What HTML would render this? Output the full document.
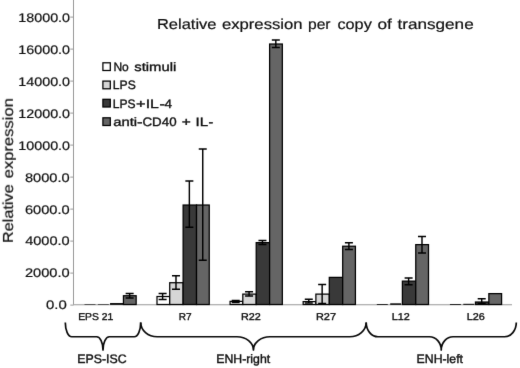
<!DOCTYPE html><html><head><meta charset="utf-8"><title>chart</title>
<style>html,body{margin:0;padding:0;background:#fff}svg{display:block;filter:grayscale(1)}text{font-family:"Liberation Sans",sans-serif;fill:#111;stroke:#111;text-rendering:geometricPrecision}</style></head><body>
<svg width="520" height="368" viewBox="0 0 520 368">
<defs><filter id="soft" filterUnits="userSpaceOnUse" x="0" y="0" width="520" height="368" color-interpolation-filters="sRGB"><feConvolveMatrix order="3" kernelMatrix="0.0052 0.0619 0.0052 0.0619 0.7314 0.0619 0.0052 0.0619 0.0052" edgeMode="duplicate" preserveAlpha="false"/></filter></defs>
<g filter="url(#soft)">
<rect width="520" height="368" fill="#fff"/>
<line x1="73.5" y1="0" x2="73.5" y2="304.5" stroke="#999" stroke-width="1"/>
<line x1="73.0" y1="304.75" x2="512" y2="304.75" stroke="#999" stroke-width="1.1"/>
<line x1="70.3" y1="305.1" x2="73.5" y2="305.1" stroke="#999" stroke-width="1"/>
<line x1="70.3" y1="273.1" x2="73.5" y2="273.1" stroke="#999" stroke-width="1"/>
<line x1="70.3" y1="241.1" x2="73.5" y2="241.1" stroke="#999" stroke-width="1"/>
<line x1="70.3" y1="209.1" x2="73.5" y2="209.1" stroke="#999" stroke-width="1"/>
<line x1="70.3" y1="177.1" x2="73.5" y2="177.1" stroke="#999" stroke-width="1"/>
<line x1="70.3" y1="145.1" x2="73.5" y2="145.1" stroke="#999" stroke-width="1"/>
<line x1="70.3" y1="113.1" x2="73.5" y2="113.1" stroke="#999" stroke-width="1"/>
<line x1="70.3" y1="81.1" x2="73.5" y2="81.1" stroke="#999" stroke-width="1"/>
<line x1="70.3" y1="49.1" x2="73.5" y2="49.1" stroke="#999" stroke-width="1"/>
<line x1="70.3" y1="17.1" x2="73.5" y2="17.1" stroke="#999" stroke-width="1"/>
<rect x="84.49" y="304.30" width="10.97" height="0.60" fill="#111"/>
<rect x="97.87" y="304.30" width="10.97" height="0.60" fill="#111"/>
<rect x="110.04" y="303.00" width="13.38" height="1.90" fill="#111"/>
<rect x="123.44" y="295.73" width="12.72" height="8.77" fill="#656565" stroke="#000" stroke-width="1.25"/>
<path d="M125.65 293.60H133.65M125.65 298.00H133.65" stroke="#000" stroke-width="1.5" fill="none"/>
<path d="M129.65 293.60V298.00" stroke="#000" stroke-width="1.45" fill="none"/>
<rect x="157.00" y="296.52" width="12.72" height="7.98" fill="#ffffff" stroke="#000" stroke-width="1.25"/>
<rect x="169.72" y="282.73" width="13.40" height="21.77" fill="#d6d6d6" stroke="#000" stroke-width="1.25"/>
<rect x="183.12" y="205.03" width="13.40" height="99.47" fill="#393939" stroke="#000" stroke-width="1.25"/>
<rect x="196.53" y="205.03" width="12.72" height="99.47" fill="#656565" stroke="#000" stroke-width="1.25"/>
<path d="M158.61 293.60H166.61M158.61 299.40H166.61" stroke="#000" stroke-width="1.5" fill="none"/>
<path d="M162.61 293.60V299.40" stroke="#000" stroke-width="1.45" fill="none"/>
<path d="M171.99 275.70H179.99M171.99 289.20H179.99" stroke="#000" stroke-width="1.5" fill="none"/>
<path d="M175.99 275.70V289.20" stroke="#000" stroke-width="1.45" fill="none"/>
<path d="M185.36 181.00H193.36M185.36 227.30H193.36" stroke="#000" stroke-width="1.5" fill="none"/>
<path d="M189.36 181.00V227.30" stroke="#000" stroke-width="1.45" fill="none"/>
<path d="M198.74 149.00H206.74M198.74 260.20H206.74" stroke="#000" stroke-width="1.5" fill="none"/>
<path d="M202.74 149.00V260.20" stroke="#000" stroke-width="1.45" fill="none"/>
<rect x="230.08" y="301.38" width="12.72" height="3.12" fill="#ffffff" stroke="#000" stroke-width="1.25"/>
<rect x="242.81" y="294.12" width="13.40" height="10.38" fill="#d6d6d6" stroke="#000" stroke-width="1.25"/>
<rect x="256.21" y="242.62" width="13.40" height="61.88" fill="#393939" stroke="#000" stroke-width="1.25"/>
<rect x="269.61" y="44.02" width="12.73" height="260.48" fill="#656565" stroke="#000" stroke-width="1.25"/>
<path d="M231.70 300.40H239.70M231.70 302.40H239.70" stroke="#000" stroke-width="1.5" fill="none"/>
<path d="M235.70 300.40V302.40" stroke="#000" stroke-width="1.45" fill="none"/>
<path d="M245.07 291.80H253.07M245.07 296.10H253.07" stroke="#000" stroke-width="1.5" fill="none"/>
<path d="M249.07 291.80V296.10" stroke="#000" stroke-width="1.45" fill="none"/>
<path d="M258.45 240.50H266.45M258.45 244.50H266.45" stroke="#000" stroke-width="1.5" fill="none"/>
<path d="M262.45 240.50V244.50" stroke="#000" stroke-width="1.45" fill="none"/>
<path d="M271.82 40.10H279.82M271.82 47.60H279.82" stroke="#000" stroke-width="1.5" fill="none"/>
<path d="M275.82 40.10V47.60" stroke="#000" stroke-width="1.45" fill="none"/>
<rect x="303.17" y="301.62" width="12.73" height="2.88" fill="#ffffff" stroke="#000" stroke-width="1.25"/>
<rect x="315.89" y="294.12" width="13.40" height="10.38" fill="#d6d6d6" stroke="#000" stroke-width="1.25"/>
<rect x="329.29" y="277.38" width="13.40" height="27.12" fill="#393939" stroke="#000" stroke-width="1.25"/>
<rect x="342.69" y="246.22" width="12.73" height="58.28" fill="#656565" stroke="#000" stroke-width="1.25"/>
<path d="M304.78 299.30H312.78M304.78 302.90H312.78" stroke="#000" stroke-width="1.5" fill="none"/>
<path d="M308.78 299.30V302.90" stroke="#000" stroke-width="1.45" fill="none"/>
<path d="M318.15 284.60H326.15M318.15 303.40H326.15" stroke="#000" stroke-width="1.5" fill="none"/>
<path d="M322.15 284.60V303.40" stroke="#000" stroke-width="1.45" fill="none"/>
<path d="M344.90 242.75H352.90M344.90 249.40H352.90" stroke="#000" stroke-width="1.5" fill="none"/>
<path d="M348.90 242.75V249.40" stroke="#000" stroke-width="1.45" fill="none"/>
<rect x="376.82" y="304.00" width="10.97" height="0.90" fill="#111"/>
<rect x="390.20" y="303.30" width="10.97" height="1.60" fill="#111"/>
<rect x="402.38" y="281.12" width="13.40" height="23.38" fill="#393939" stroke="#000" stroke-width="1.25"/>
<rect x="415.77" y="244.62" width="12.73" height="59.88" fill="#656565" stroke="#000" stroke-width="1.25"/>
<path d="M404.61 277.90H412.61M404.61 284.70H412.61" stroke="#000" stroke-width="1.5" fill="none"/>
<path d="M408.61 277.90V284.70" stroke="#000" stroke-width="1.45" fill="none"/>
<path d="M417.99 236.50H425.99M417.99 253.10H425.99" stroke="#000" stroke-width="1.5" fill="none"/>
<path d="M421.99 236.50V253.10" stroke="#000" stroke-width="1.45" fill="none"/>
<rect x="449.91" y="304.00" width="10.97" height="0.90" fill="#111"/>
<rect x="463.28" y="303.80" width="10.97" height="1.10" fill="#111"/>
<rect x="475.46" y="302.02" width="13.40" height="2.48" fill="#393939" stroke="#000" stroke-width="1.25"/>
<rect x="488.86" y="293.62" width="12.73" height="10.88" fill="#656565" stroke="#000" stroke-width="1.25"/>
<path d="M477.70 298.80H485.70M477.70 303.60H485.70" stroke="#000" stroke-width="1.5" fill="none"/>
<path d="M481.70 298.80V303.60" stroke="#000" stroke-width="1.45" fill="none"/>
<path d="M65.3 322.6 A6.4 14.149999999999977 0 0 0 71.7 336.75 H96.60 A6.4 13.15 0 0 1 103.00 349.9 A6.4 13.15 0 0 1 109.40 336.75 H134.30 A6.4 14.149999999999977 0 0 0 140.7 322.6" stroke="#0a0a0a" stroke-width="1.7" fill="none" stroke-linejoin="round"/>
<path d="M140.7 322.6 A16.5 14.149999999999977 0 0 0 157.2 336.75 H236.95 A16.5 13.15 0 0 1 253.45 349.9 A16.5 13.15 0 0 1 269.95 336.75 H349.70 A16.5 14.149999999999977 0 0 0 366.2 322.6" stroke="#0a0a0a" stroke-width="1.7" fill="none" stroke-linejoin="round"/>
<path d="M366.2 322.6 A11.8 14.149999999999977 0 0 0 378.0 336.75 H429.45 A11.8 13.15 0 0 1 441.25 349.9 A11.8 13.15 0 0 1 453.05 336.75 H504.50 A11.8 14.149999999999977 0 0 0 516.3 322.6" stroke="#0a0a0a" stroke-width="1.7" fill="none" stroke-linejoin="round"/>
<text x="156.94" y="29.00" font-size="14.4" stroke-width="0.2" textLength="59.62" lengthAdjust="spacingAndGlyphs">Relative</text>
<text x="221.94" y="29.00" font-size="14.4" stroke-width="0.2" textLength="80.64" lengthAdjust="spacingAndGlyphs">expression</text>
<text x="307.97" y="29.00" font-size="14.4" stroke-width="0.2" textLength="22.58" lengthAdjust="spacingAndGlyphs">per</text>
<text x="337.43" y="29.00" font-size="14.4" stroke-width="0.2" textLength="34.37" lengthAdjust="spacingAndGlyphs">copy</text>
<text x="377.42" y="29.00" font-size="14.4" stroke-width="0.2" textLength="14.40" lengthAdjust="spacingAndGlyphs">of</text>
<text x="397.45" y="29.00" font-size="14.4" stroke-width="0.2" textLength="76.26" lengthAdjust="spacingAndGlyphs">transgene</text>
<text x="113.42" y="71.00" font-size="12.2" stroke-width="0.35" textLength="15.38" lengthAdjust="spacingAndGlyphs">No</text>
<text x="134.25" y="71.00" font-size="12.2" stroke-width="0.35" textLength="41.99" lengthAdjust="spacingAndGlyphs">stimuli</text>
<text x="112.81" y="89.00" font-size="12.2" stroke-width="0.35" textLength="22.99" lengthAdjust="spacingAndGlyphs">LPS</text>
<text x="112.80" y="108.00" font-size="12.2" stroke-width="0.35" textLength="22.80" lengthAdjust="spacingAndGlyphs">LPS</text>
<text x="135.97" y="108.00" font-size="12.2" stroke-width="0.35" textLength="9.53" lengthAdjust="spacingAndGlyphs">+</text>
<text x="145.70" y="108.00" font-size="12.2" stroke-width="0.35" textLength="13.17" lengthAdjust="spacingAndGlyphs">IL</text>
<text x="159.40" y="108.00" font-size="12.2" stroke-width="0.35" textLength="5.38" lengthAdjust="spacingAndGlyphs">-</text>
<text x="164.50" y="108.00" font-size="12.2" stroke-width="0.35" textLength="7.51" lengthAdjust="spacingAndGlyphs">4</text>
<text x="113.21" y="126.00" font-size="12.2" stroke-width="0.35" textLength="23.84" lengthAdjust="spacingAndGlyphs">anti</text>
<text x="136.96" y="126.00" font-size="12.2" stroke-width="0.35" textLength="5.55" lengthAdjust="spacingAndGlyphs">-</text>
<text x="142.50" y="126.00" font-size="12.2" stroke-width="0.35" textLength="34.05" lengthAdjust="spacingAndGlyphs">CD40</text>
<text x="181.72" y="126.00" font-size="12.2" stroke-width="0.35" textLength="9.07" lengthAdjust="spacingAndGlyphs">+</text>
<text x="195.47" y="126.00" font-size="12.2" stroke-width="0.35" textLength="12.58" lengthAdjust="spacingAndGlyphs">IL</text>
<text x="208.53" y="126.00" font-size="12.2" stroke-width="0.35" textLength="4.72" lengthAdjust="spacingAndGlyphs">-</text>
<text x="45.96" y="309.00" font-size="12.5" stroke-width="0.2" textLength="20.75" lengthAdjust="spacingAndGlyphs">0.0</text>
<text x="24.96" y="277.00" font-size="12.5" stroke-width="0.2" textLength="44.74" lengthAdjust="spacingAndGlyphs">2000.0</text>
<text x="25.20" y="245.00" font-size="12.5" stroke-width="0.2" textLength="44.50" lengthAdjust="spacingAndGlyphs">4000.0</text>
<text x="24.96" y="214.00" font-size="12.5" stroke-width="0.2" textLength="44.74" lengthAdjust="spacingAndGlyphs">6000.0</text>
<text x="24.96" y="182.00" font-size="12.5" stroke-width="0.2" textLength="44.74" lengthAdjust="spacingAndGlyphs">8000.0</text>
<text x="18.30" y="150.00" font-size="12.5" stroke-width="0.2" textLength="51.75" lengthAdjust="spacingAndGlyphs">10000.0</text>
<text x="18.30" y="118.00" font-size="12.5" stroke-width="0.2" textLength="51.75" lengthAdjust="spacingAndGlyphs">12000.0</text>
<text x="18.30" y="86.00" font-size="12.5" stroke-width="0.2" textLength="51.75" lengthAdjust="spacingAndGlyphs">14000.0</text>
<text x="18.30" y="54.00" font-size="12.5" stroke-width="0.2" textLength="51.75" lengthAdjust="spacingAndGlyphs">16000.0</text>
<text x="18.30" y="22.00" font-size="12.5" stroke-width="0.2" textLength="51.75" lengthAdjust="spacingAndGlyphs">18000.0</text>
<text x="78.22" y="320.00" font-size="9.9" stroke-width="0.35" textLength="35.08" lengthAdjust="spacingAndGlyphs">EPS 21</text>
<text x="178.73" y="320.00" font-size="9.9" stroke-width="0.35" textLength="12.82" lengthAdjust="spacingAndGlyphs">R7</text>
<text x="240.97" y="320.00" font-size="9.9" stroke-width="0.35" textLength="19.84" lengthAdjust="spacingAndGlyphs">R22</text>
<text x="315.97" y="320.00" font-size="9.9" stroke-width="0.35" textLength="20.08" lengthAdjust="spacingAndGlyphs">R27</text>
<text x="391.72" y="320.00" font-size="9.9" stroke-width="0.35" textLength="18.07" lengthAdjust="spacingAndGlyphs">L12</text>
<text x="466.72" y="320.00" font-size="9.9" stroke-width="0.35" textLength="18.08" lengthAdjust="spacingAndGlyphs">L26</text>
<text x="77.21" y="363.00" font-size="12.3" stroke-width="0.4" textLength="49.34" lengthAdjust="spacingAndGlyphs">EPS-ISC</text>
<text x="216.22" y="363.00" font-size="12.3" stroke-width="0.4" textLength="53.93" lengthAdjust="spacingAndGlyphs">ENH-right</text>
<text x="416.57" y="363.00" font-size="12.3" stroke-width="0.4" textLength="46.44" lengthAdjust="spacingAndGlyphs">ENH-left</text>
<g transform="translate(12.9 241.8) rotate(-90)" stroke-width="0.2">
<text x="-1.31" y="0" font-size="14.4" textLength="58.86" lengthAdjust="spacingAndGlyphs">Relative</text>
<text x="63.55" y="0" font-size="14.4" textLength="80.10" lengthAdjust="spacingAndGlyphs">expression</text>
</g>
<rect x="102.9" y="62.80" width="7.4" height="7.7" fill="#ffffff" stroke="#000" stroke-width="1.25"/>
<rect x="102.9" y="81.10" width="7.4" height="7.7" fill="#d6d6d6" stroke="#000" stroke-width="1.25"/>
<rect x="102.9" y="99.30" width="7.4" height="7.7" fill="#393939" stroke="#000" stroke-width="1.25"/>
<rect x="102.9" y="117.80" width="7.4" height="7.7" fill="#656565" stroke="#000" stroke-width="1.25"/>
</g></svg></body></html>
